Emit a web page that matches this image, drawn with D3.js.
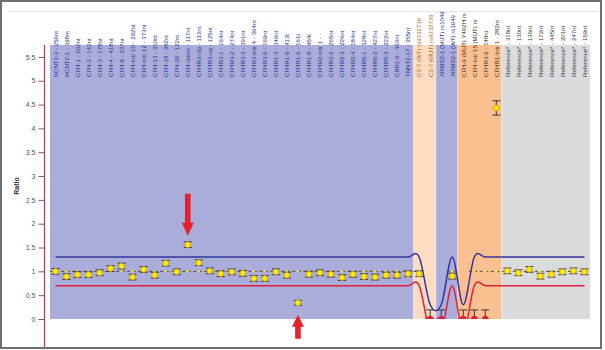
<!DOCTYPE html>
<html>
<head>
<meta charset="utf-8">
<script src="https://cdn.jsdelivr.net/npm/d3@7/dist/d3.min.js"></script>
<style>
  body { margin: 0; background: #fff; }
  svg { display: block; font-family: "Liberation Sans", Arial, sans-serif; }
</style>
</head>
<body>
<div id="chart"></div>
<script>
// probe names, as printed above each column
var probes = [
  "KCNT2-3 - 256nt", "KCNT2-1 - 398nt", "CFH-1 - 202nt", "CFH-2 - 142nt",
  "CFH-3 - 178nt", "CFH-4 - 418nt", "CFH-8 - 337nt", "CFH-Intr 10 - 292nt",
  "CFH-Intr 12 - 373nt", "CFH-13 - 310nt", "CFH-18 - 382nt", "CFH-20 - 122nt",
  "CFH-down - 117nt", "CFHR3-Up - 113nt", "CFHR3-up - 125nt", "CFHR3-1 - 164nt",
  "CFHR3-2 - 274nt", "CFHR3-3 - 391nt", "CFHR3-Intr 4 - 364nt", "CFHR3-5 - 169nt",
  "CFHR1-3 - 346nt", "CFHR1-5 - 413t", "CFHR1-6 - 161t", "CFHR1-8 - 454t",
  "CFHR2-Intr 1 - ·", "CFHR2-2 - 265nt", "CFHR2-3 - 226nt", "CFHR2-4 - 184nt",
  "CFHR5-1 - 328nt", "CFHR5-2 - 427nt", "CFHR5-3 - 222nt", "CRB1-6 - 463nt",
  "TNNT2-17 - 355nt",
  "C2-7 (WT) rs9332739", "C2-7 (MUT) rs9332739",
  "ARMS2-1 (MUT) rs1049", "ARMS2-1 (WT) rs1049",
  "CFH-9 (MUT) Y402H rs", "CFH-Intr 15 (MUT) rs",
  "CFHR3-6 - 148nt", "CFHR1-Intr 1 - 282nt",
  "Reference* - 318nt", "Reference* - 130nt", "Reference* - 136nt", "Reference* - 172nt",
  "Reference* - 445nt", "Reference* - 201nt", "Reference* - 247nt", "Reference* - 159nt"
];

// which shaded block each probe sits in
var groups = [].concat(
  d3.range(33).map(function() { return "target"; }),
  ["c2", "c2"],
  ["arms2", "arms2"],
  ["snp", "snp", "snp", "snp"],
  d3.range(8).map(function() { return "reference"; })
);

var ratios = [
  1.00, 0.89, 0.93, 0.93, 0.97, 1.06, 1.11, 0.88, 1.04, 0.92, 1.17, 0.99,
  1.56, 1.18, 1.01, 0.95, 0.99, 0.96, 0.85, 0.85, 0.99, 0.92, 0.34, 0.94,
  0.97, 0.94, 0.87, 0.94, 0.89, 0.88, 0.92, 0.92, 0.95,
  0.95, 0,
  0, 0.90,
  0, 0, 0, 4.43,
  1.01, 0.97, 1.04, 0.90, 0.94, 0.99, 1.01, 0.99
];

var errors = [
  0.06, 0.06, 0.06, 0.06, 0.06, 0.06, 0.06, 0.06, 0.06, 0.06, 0.06, 0.06,
  0.06, 0.06, 0.06, 0.06, 0.06, 0.06, 0.06, 0.06, 0.06, 0.06, 0.05, 0.06,
  0.06, 0.06, 0.06, 0.06, 0.06, 0.06, 0.06, 0.06, 0.06,
  0.06, 0.19,
  0.19, 0.06,
  0.19, 0.19, 0.19, 0.15,
  0.06, 0.06, 0.06, 0.06, 0.06, 0.06, 0.06, 0.06
];

var expected = [
  1, 1, 1, 1, 1, 1, 1, 1, 1, 1, 1, 1, 1, 1, 1, 1, 1, 1, 1, 1, 1, 1, 1, 1,
  1, 1, 1, 1, 1, 1, 1, 1, 1,
  1, 0,
  0, 1,
  0, 1, 1, 1,
  1, 1, 1, 1, 1, 1, 1, 1
];

var upperLimit = [
  1.3, 1.3, 1.3, 1.3, 1.3, 1.3, 1.3, 1.3, 1.3, 1.3, 1.3, 1.3, 1.3, 1.3, 1.3, 1.3,
  1.3, 1.3, 1.3, 1.3, 1.3, 1.3, 1.3, 1.3, 1.3, 1.3, 1.3, 1.3, 1.3, 1.3, 1.3, 1.3, 1.3,
  1.3, 0.3,
  0.3, 1.3,
  0.3, 1.3, 1.3, 1.3,
  1.3, 1.3, 1.3, 1.3, 1.3, 1.3, 1.3, 1.3
];

var lowerLimit = [
  0.7, 0.7, 0.7, 0.7, 0.7, 0.7, 0.7, 0.7, 0.7, 0.7, 0.7, 0.7, 0.7, 0.7, 0.7, 0.7,
  0.7, 0.7, 0.7, 0.7, 0.7, 0.7, 0.7, 0.7, 0.7, 0.7, 0.7, 0.7, 0.7, 0.7, 0.7, 0.7, 0.7,
  0.7, -0.3,
  -0.3, 0.7,
  -0.3, 0.7, 0.7, 0.7,
  0.7, 0.7, 0.7, 0.7, 0.7, 0.7, 0.7, 0.7
];

var yTicks = [0, 0.5, 1, 1.5, 2, 2.5, 3, 3.5, 4, 4.5, 5, 5.5];

// probes marked with a red arrow, and which way the arrow points
var flagged = [12, 22];
var flagDirection = ["down", "up"];

function init() {
  var w = 605;
  var h = 350;
  var left = 50, right = 590, top = 45, bottom = 319;

  var fills = { target: "#aaacda", c2: "#fddcc2", arms2: "#aaacda", snp: "#fbc08f", reference: "#dadbdd" };
  var labelColors = { target: "#2c3592", c2: "#b56a2c", arms2: "#2c3592", snp: "#4a3526", reference: "#3a3a3a" };

  var svg = d3.select("#chart")
    .append("svg")
    .attr("width", w)
    .attr("height", h);

  var x = d3.scaleBand()
    .domain(d3.range(probes.length))
    .range([left, right]);
  var bw = x.bandwidth();
  var cx = function(i) { return x(i) + bw / 2; };

  var y = d3.scaleLinear()
    .domain([0, 5.75])
    .range([bottom, top]);

  var defs = svg.append("defs");
  defs.append("clipPath").attr("id", "plotClip")
    .append("rect")
    .attr("x", left).attr("y", top)
    .attr("width", right - left).attr("height", bottom - top);

  // outer frame
  svg.append("rect")
    .attr("x", 1).attr("y", 1)
    .attr("width", 600).attr("height", 347)
    .attr("fill", "none")
    .attr("stroke", "#6f6f6f")
    .attr("stroke-width", 2);
  svg.append("line")
    .attr("x1", 8).attr("x2", 598)
    .attr("y1", 11.5).attr("y2", 11.5)
    .attr("stroke", "#e4e4e4");

  // shaded blocks: merge runs of the same group
  var runs = [];
  groups.forEach(function(g, i) {
    var last = runs[runs.length - 1];
    if (last && last.group == g) {
      last.end = i;
    } else {
      runs.push({ group: g, start: i, end: i });
    }
  });

  svg.append("g")
    .selectAll("rect")
    .data(runs)
    .enter()
    .append("rect")
    .attr("x", function(d) { return x(d.start); })
    .attr("y", top)
    .attr("width", function(d) { return x(d.end) + bw - x(d.start); })
    .attr("height", bottom - top)
    .attr("fill", function(d) { return fills[d.group]; });

  svg.append("g")
    .selectAll("line")
    .data(runs.slice(1))
    .enter()
    .append("line")
    .attr("x1", function(d) { return x(d.start); })
    .attr("x2", function(d) { return x(d.start); })
    .attr("y1", top)
    .attr("y2", bottom)
    .attr("stroke", "#ffffff")
    .attr("stroke-opacity", 0.55);

  // probe labels
  svg.append("g")
    .selectAll("text")
    .data(probes)
    .enter()
    .append("text")
    .attr("transform", function(d, i) {
      return "translate(" + (cx(i) + 2.3) + ",77) rotate(-90)";
    })
    .attr("font-size", "6.1px")
    .attr("fill", function(d, i) { return labelColors[groups[i]]; })
    .text(function(d) { return d; });

  var plot = svg.append("g").attr("clip-path", "url(#plotClip)");

  // expected ratio, dashed
  plot.append("g")
    .selectAll("line")
    .data(expected)
    .enter()
    .append("line")
    .attr("x1", function(d, i) { return x(i); })
    .attr("x2", function(d, i) { return x(i) + bw; })
    .attr("y1", function(d) { return y(d); })
    .attr("y2", function(d) { return y(d); })
    .attr("stroke", "#4a4a5a")
    .attr("stroke-width", 1)
    .attr("stroke-dasharray", "3,2.5");

  // threshold curves
  var limitLine = d3.line()
    .x(function(d, i) { return cx(i); })
    .y(function(d) { return y(d); })
    .curve(d3.curveCardinal.tension(0));

  plot.append("path")
    .attr("d", limitLine(upperLimit))
    .attr("fill", "none")
    .attr("stroke", "#34349c")
    .attr("stroke-width", 1.5);
  plot.append("path")
    .attr("d", limitLine(lowerLimit))
    .attr("fill", "none")
    .attr("stroke", "#e3203c")
    .attr("stroke-width", 1.5);

  // small markers on the expected line
  plot.append("g")
    .selectAll("circle")
    .data(expected)
    .enter()
    .append("circle")
    .attr("cx", function(d, i) { return cx(i); })
    .attr("cy", function(d) { return y(d); })
    .attr("r", 1.2)
    .attr("fill", "#f2ea1c");

  // error bars
  var bars = plot.append("g")
    .attr("stroke", "#3a3440")
    .attr("stroke-width", 1);
  ratios.forEach(function(v, i) {
    var lo = Math.max(0, v - errors[i]);
    var hi = v + errors[i];
    bars.append("line")
      .attr("x1", cx(i)).attr("x2", cx(i))
      .attr("y1", y(lo)).attr("y2", y(hi));
    [lo, hi].forEach(function(e) {
      bars.append("line")
        .attr("x1", cx(i) - 4).attr("x2", cx(i) + 4)
        .attr("y1", y(e)).attr("y2", y(e));
    });
  });

  // measured ratios
  plot.append("g")
    .selectAll("circle")
    .data(ratios)
    .enter()
    .append("circle")
    .attr("cx", function(d, i) { return cx(i); })
    .attr("cy", function(d) { return y(d); })
    .attr("r", function(d) { return d == 0 ? 3.2 : 2.9; })
    .attr("fill", function(d) { return d == 0 ? "#e3203c" : "#ffee00"; })
    .attr("stroke", function(d) { return d == 0 ? "none" : "#c99419"; })
    .attr("stroke-width", 0.8);

  // red arrows
  svg.append("g")
    .selectAll("path")
    .data(flagged)
    .enter()
    .append("path")
    .attr("fill", "#e8202a")
    .attr("d", function(d, k) {
      var px = cx(d);
      if (flagDirection[k] == "down") {
        var tip = y(ratios[d] + errors[d]) - 6;
        return "M" + (px - 2.8) + "," + (tip - 42) + "H" + (px + 2.8) + "V" + (tip - 13) +
          "H" + (px + 6) + "L" + px + "," + tip + "L" + (px - 6) + "," + (tip - 13) +
          "H" + (px - 2.8) + "Z";
      }
      var t = y(ratios[d]) + 12;
      return "M" + (px - 2.8) + "," + (t + 24) + "H" + (px + 2.8) + "V" + (t + 12) +
        "H" + (px + 6) + "L" + px + "," + t + "L" + (px - 6) + "," + (t + 12) +
        "H" + (px - 2.8) + "Z";
    });

  // y axis
  var yAxis = d3.axisLeft(y)
    .tickValues(yTicks)
    .tickSize(6)
    .tickPadding(3)
    .tickFormat(function(d) { return String(d); });

  var gy = svg.append("g")
    .attr("transform", "translate(" + (left - 5.5) + ",0)")
    .call(yAxis);
  gy.select(".domain").remove();
  gy.selectAll(".tick line").attr("stroke", "#666");
  gy.selectAll(".tick text")
    .attr("font-size", "7px")
    .attr("font-family", "\"Liberation Sans\", Arial, sans-serif")
    .attr("fill", "#555");

  svg.append("line")
    .attr("x1", left - 5.5).attr("x2", left - 5.5)
    .attr("y1", top).attr("y2", 347)
    .attr("stroke", "#a3455a")
    .attr("stroke-width", 1.2);

  svg.append("text")
    .attr("transform", "translate(19,186) rotate(-90)")
    .attr("text-anchor", "middle")
    .attr("font-size", "7px")
    .attr("font-weight", "bold")
    .attr("fill", "#333")
    .text("Ratio");
}

window.onload = init;
</script>
</body>
</html>
